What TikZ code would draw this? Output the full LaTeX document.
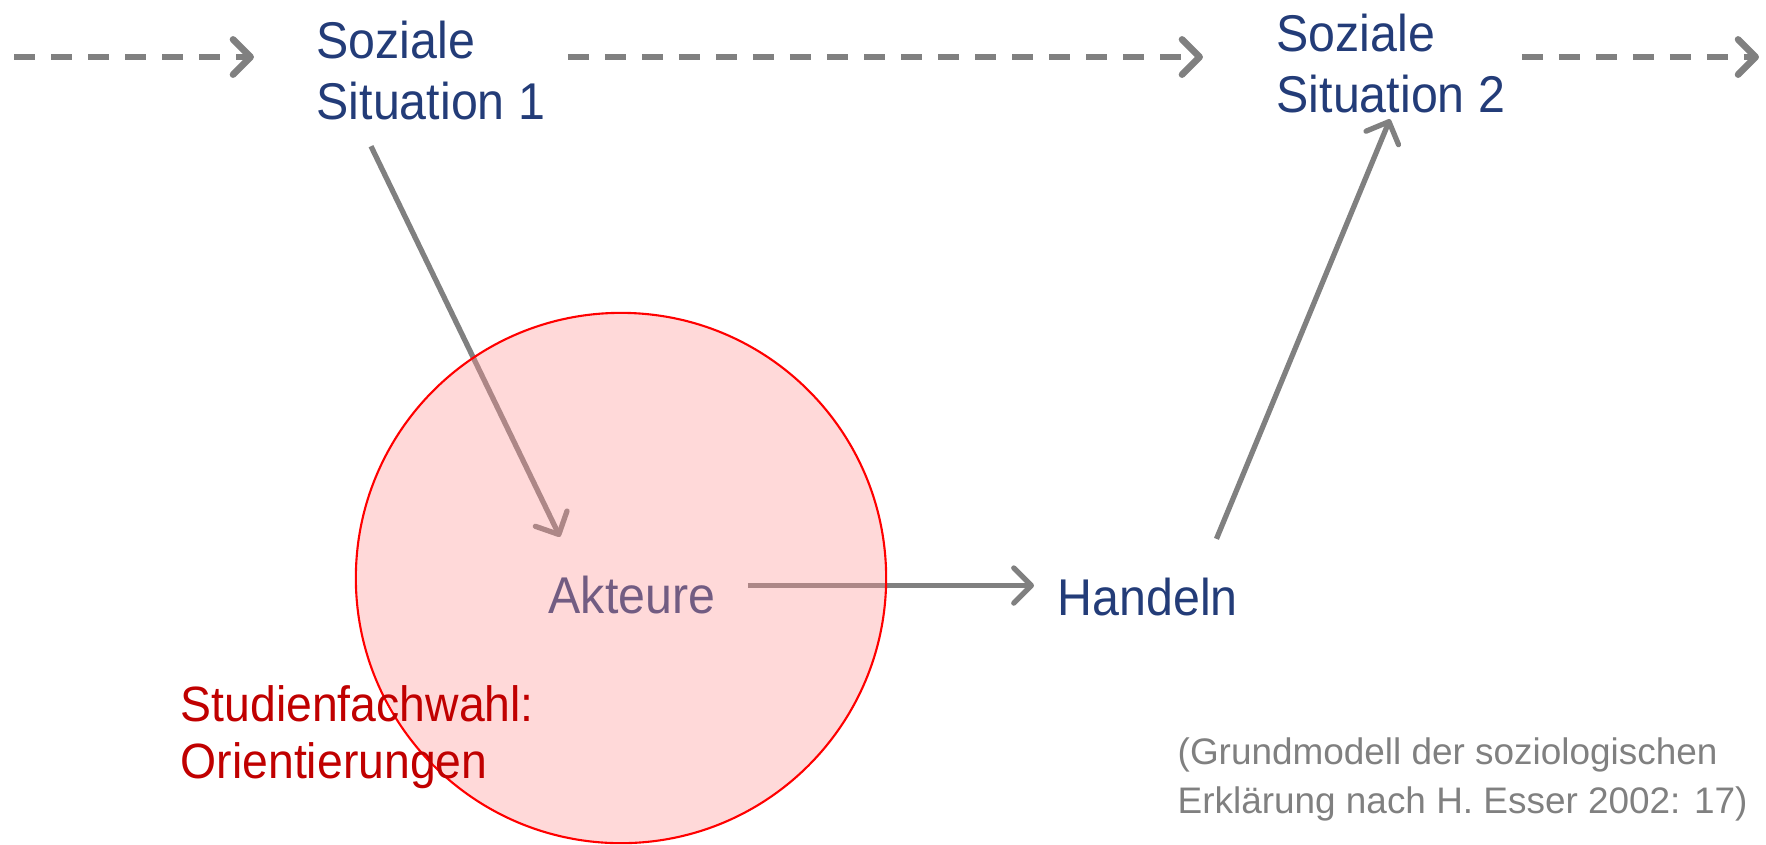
\documentclass[tikz,border=0pt]{standalone}
\usepackage{fontspec}
\setmainfont{Liberation Sans}
\newfontfamily\schmal{Liberation Sans}[FakeStretch=0.935]
\usepackage{tikz}
\usetikzlibrary{arrows.meta,calc}
\definecolor{esserblau}{RGB}{35,60,120}
\definecolor{essergrau}{RGB}{128,128,128}
\definecolor{esserrot}{RGB}{192,0,0}
\definecolor{kreisrosa}{RGB}{255,150,150}
\tikzstyle{begriff}=[
    inner sep=0pt,
    anchor=base west,
    align=left,
    text=esserblau,
    font=\schmal\fontsize{14.7}{17.2}\selectfont]
\tikzstyle{pfeil}=[
    draw=essergrau,
    line width=1.5pt,
    -{Straight Barb[length=5pt,width=10pt,line cap=round,line join=round]}]
\tikzstyle{strichpfeil}=[
    pfeil,
    line width=1.9pt,
    dash pattern=on 0.21cm off 0.16cm]
\tikzstyle{kreis}=[
    circle,
    minimum size=5.3cm,
    inner sep=0pt,
    fill=kreisrosa,
    fill opacity=0.36,
    draw=red,
    draw opacity=1,
    line width=0.6pt]

\begin{document}
\begin{tikzpicture}[x=0.01cm,y=-0.01cm]
    \useasboundingbox (0,0) rectangle (1766,844);

    % Makroebene
    \node[begriff] (sit1) at (316,119) {Soziale\\Situation 1};
    \node[begriff] (sit2) at (1276,112) {Soziale\\Situation 2};
    \coordinate (anfang) at (14,57);
    \coordinate (ende) at (1759,57);

    % Mikroebene
    \node[begriff] (akteure) at (548,613) {Akteure};
    \node[begriff] (handeln) at (1057,615) {Handeln};

    \draw[strichpfeil, shorten >=0.62cm] (anfang) -- (anfang -| sit1.west);
    \draw[strichpfeil, shorten <=0.22cm, shorten >=0.73cm] (anfang -| sit1.east) -- (anfang -| sit2.west);
    \draw[strichpfeil, shorten <=0.16cm] (anfang -| sit2.east) -- (ende);

    \draw[pfeil] ($(sit1.south west)+(55,26)$) -- ($(akteure.north west)+(12,-38)$);
    \draw[pfeil] ($(akteure.east)+(32,-9)$) -- ($(akteure.east -| handeln.west)+(-23,-9)$);
    \draw[pfeil] ($(handeln.north east)+(-22,-38)$) -- ($(sit2.south west)+(114,6)$);

    % Orientierungen
    \node[kreis] (kreis) at (621,578) {};
    \node[begriff, text=esserrot, font=\schmal\fontsize{14.1}{16}\selectfont] (orient) at (180,778) {Studienfachwahl:\\Orientierungen};

    \node[begriff, text=essergrau, font=\fontsize{10.5}{13.7}\selectfont] (quelle) at (1177,813) {(Grundmodell der soziologischen\\Erklärung nach H. Esser 2002: 17)};
\end{tikzpicture}
\end{document}
